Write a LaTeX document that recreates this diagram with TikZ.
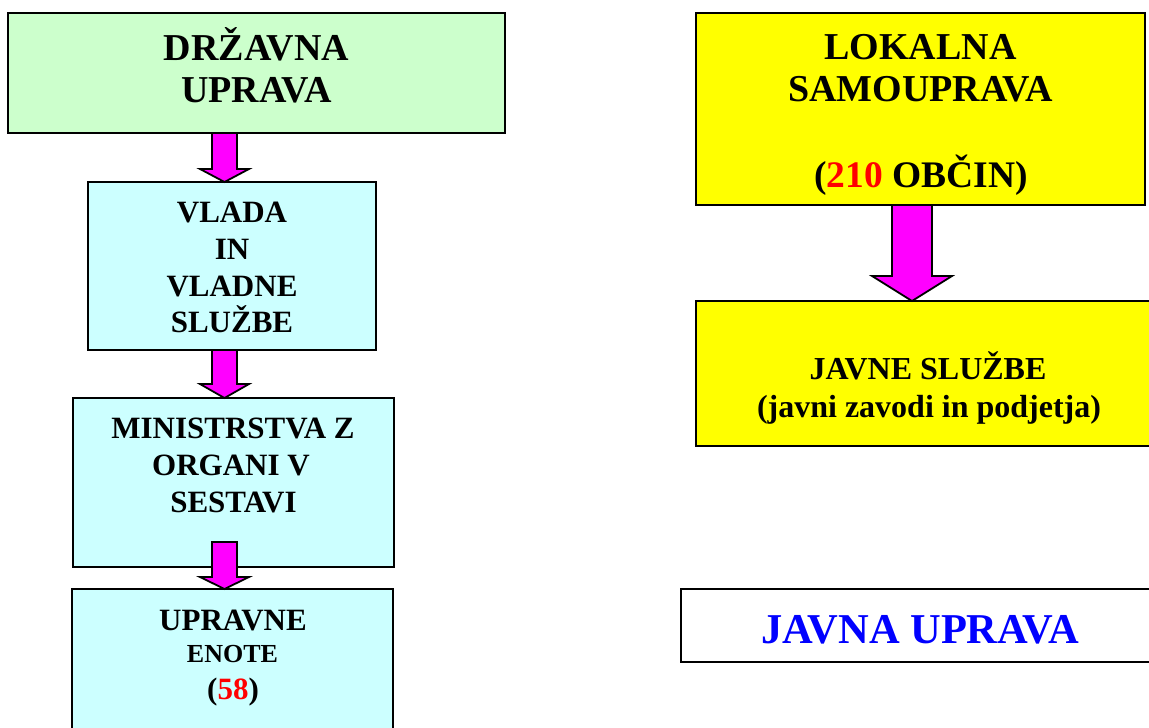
\documentclass[tikz,border=0pt]{standalone}
\usepackage{fontspec}
\setmainfont{Liberation Serif}
\usetikzlibrary{calc}
\definecolor{boxgreen}{HTML}{CCFFCC}
\definecolor{boxcyan}{HTML}{CCFFFF}
\definecolor{boxyellow}{HTML}{FFFF00}
\definecolor{arrowmag}{HTML}{FF00FF}
\definecolor{numred}{HTML}{FF0000}
\definecolor{titleblue}{HTML}{0000FF}
\newcommand\fsz[1]{\fontsize{#1}{#1}\selectfont\bfseries}
% #1 from anchor, #2 to anchor, #3 shaft centre x, #4 top offset, #5 shaft half width, #6 head half width, #7 head length
\newcommand\blockarrow[7]{%
  \draw[blockarrow] let \p1=(#1), \p2=(#2) in
    (#3pt-#5pt,\y1+#4pt) -- (#3pt+#5pt,\y1+#4pt) -- (#3pt+#5pt,\y2+#7pt) --
    (#3pt+#6pt,\y2+#7pt) -- (#3pt,\y2) -- (#3pt-#6pt,\y2+#7pt) --
    (#3pt-#5pt,\y2+#7pt) -- cycle;}
\begin{document}
\begin{tikzpicture}[x=1pt,y=-1pt,
  box/.style={draw=black, line width=1.8pt, inner sep=0pt, outer sep=0pt},
  txt/.style={inner sep=0pt, outer sep=0pt, anchor=base},
  blockarrow/.style={draw=black, line width=1.8pt, fill=arrowmag, line join=miter}]
\useasboundingbox (0,0) rectangle (1149,728);
\clip (0,0) rectangle (1149,728);

% boxes
\node[box, fill=boxgreen,  minimum width=497, minimum height=120] (b1) at (256.5,73) {};
\node[box, fill=boxcyan,   minimum width=288, minimum height=168] (b2) at (232,266) {};
\node[box, fill=boxcyan,   minimum width=321, minimum height=169] (b3) at (233.5,482.5) {};
\node[box, fill=boxcyan,   minimum width=321, minimum height=171] (b4) at (232.5,674.5) {};
\node[box, fill=boxyellow, minimum width=449, minimum height=192] (b5) at (920.5,109) {};
\node[box, fill=boxyellow, minimum width=466, minimum height=145] (b6) at (929,373.5) {};
\node[box, fill=white,     minimum width=478, minimum height=73]  (b7) at (920,625.5) {};

% texts
\node[txt] (t1a) at (256.5,60)  {\fsz{38}DRŽAVNA};
\node[txt] (t1b) at (256.5,102) {\fsz{38}UPRAVA};

\node[txt] (t2a) at (232,222) {\fsz{31}VLADA};
\node[txt] (t2b) at (232,259) {\fsz{31}IN};
\node[txt] (t2c) at (232,296) {\fsz{31}VLADNE};
\node[txt] (t2d) at (232,332) {\fsz{31}SLUŽBE};

\node[txt] (t3a) at (233,438)   {\fsz{31}MINISTRSTVA Z};
\node[txt] (t3b) at (231,475)   {\fsz{31}ORGANI V};
\node[txt] (t3c) at (233.5,512) {\fsz{31}SESTAVI};

\node[txt] (t4a) at (233,630)   {\fsz{31}UPRAVNE};
\node[txt] (t4b) at (232.5,662) {\fsz{26}ENOTE};
\node[txt] (t4c) at (233,699)   {\fsz{31}(\textcolor{numred}{58})};

\node[txt] (t5a) at (920.5,59)  {\fsz{38}LOKALNA};
\node[txt] (t5b) at (920.5,101) {\fsz{38}SAMOUPRAVA};
\node[txt] (t5c) at (921,187)   {\fsz{37.5}(\textcolor{numred}{210} OBČIN)};

\node[txt] (t6a) at (928,379)   {\fsz{32}JAVNE SLUŽBE};
\node[txt] (t6b) at (929,417)   {\fsz{32}(javni zavodi in podjetja)};

\node[txt, text=titleblue] (t7) at (920,643) {\fsz{42.5}JAVNA UPRAVA};

% arrows
\blockarrow{b1.south}{b2.north}{224.5}{0}{12.5}{24.5}{13}
\blockarrow{b2.south}{b3.north}{224.5}{0}{12.5}{24.5}{14}
\blockarrow{b3.south}{b4.north}{224.5}{25}{12.5}{24.5}{12}
\blockarrow{b5.south}{b6.north}{912}{0}{20}{40}{25}
\end{tikzpicture}
\end{document}
